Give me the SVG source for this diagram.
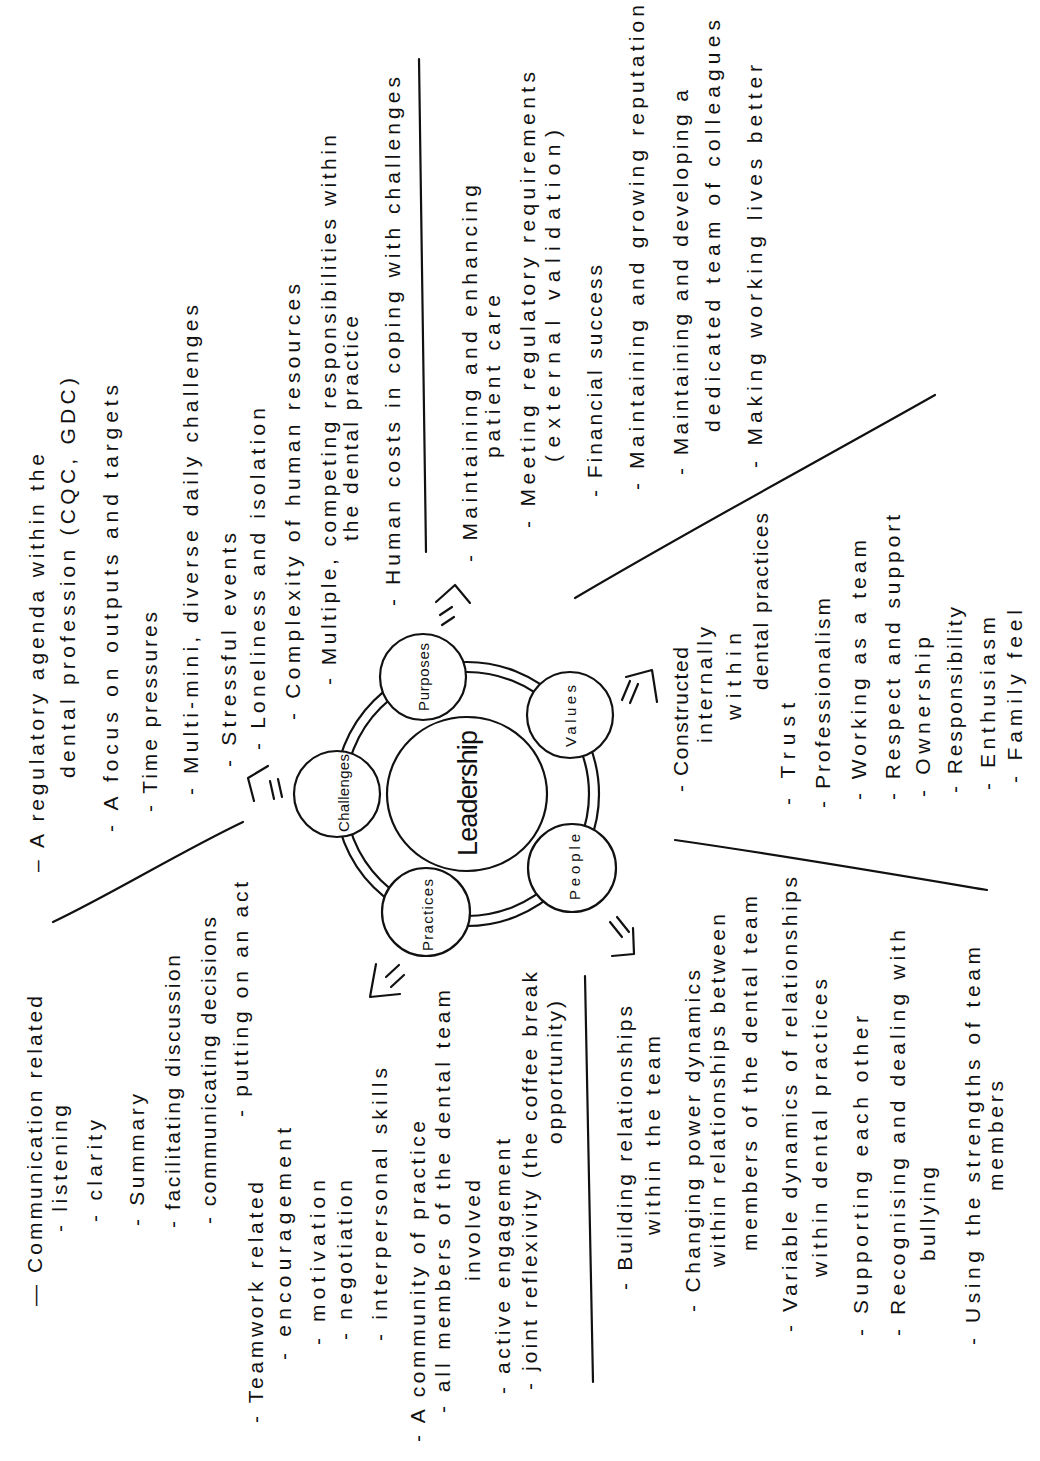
<svg xmlns="http://www.w3.org/2000/svg" width="1040" height="1461" viewBox="0 0 1040 1461">
  <style>
    .t { font-family: "Liberation Sans", Arial, sans-serif; font-size: 21px; fill: #111; }
    .lbl { font-family: "Liberation Sans", Arial, sans-serif; font-size: 15px; fill: #111; text-anchor: middle; }
    .big { font-family: "Liberation Sans", Arial, sans-serif; font-size: 27px; fill: #111; text-anchor: middle; }
    .ink { fill: none; stroke: #111; stroke-width: 2.2; stroke-linecap: round; stroke-linejoin: round; }
    .bub { fill: #fff; stroke: #111; stroke-width: 2.2; }
  </style>
  <rect width="1040" height="1461" fill="#fff"/>

  <!-- connectors: the double ring, arrows and dividing strokes -->
  <g id="connectors">
    <circle class="ink" cx="467" cy="794" r="132"/>
    <circle class="ink" cx="467" cy="794" r="122"/>
    <!-- arrows leaving each theme -->
    <path class="ink" d="M268,766 L248,778 L254,801 M270,781 L274,799 M278,779 L282,797"/>
    <path class="ink" d="M436,602 L455,585 L470,603 M440,615 L452,607 M442,625 L454,617"/>
    <path class="ink" d="M626,677 L652,670 L657,702 M622,700 L630,681 M630,703 L638,684"/>
    <path class="ink" d="M633,928 L634,954 L612,956 M610,922 L622,937 M617,917 L629,932"/>
    <path class="ink" d="M376,964 L370,997 L400,994 M386,977 L399,965 M391,987 L404,975"/>
    <!-- dividing strokes between the sections -->
    <path class="ink" d="M53,922 C110,895 180,852 243,822"/>
    <path class="ink" d="M419,59 C421,220 424,390 426,552"/>
    <path class="ink" d="M575,598 C690,530 820,460 935,395"/>
    <path class="ink" d="M675,840 C780,855 880,872 987,890"/>
    <path class="ink" d="M585,976 C587,1110 590,1245 593,1382"/>
  </g>

  <!-- central node -->
  <g id="node-leadership">
    <ellipse class="bub" cx="467" cy="794" rx="80" ry="77"/>
    <text class="big" transform="translate(477 793) rotate(-90)" textLength="126">Leadership</text>
  </g>

  <g id="node-challenges">
    <circle class="bub" cx="337" cy="794" r="43"/>
    <text class="lbl" transform="translate(349 793) rotate(-90)" textLength="78">Challenges</text>
  </g>
  <g id="node-purposes">
    <circle class="bub" cx="423" cy="677" r="43"/>
    <text class="lbl" transform="translate(429 677) rotate(-90)" textLength="68">Purposes</text>
  </g>
  <g id="node-values">
    <circle class="bub" cx="570" cy="715" r="43"/>
    <text class="lbl" transform="translate(576 716) rotate(-90)" textLength="62">Values</text>
  </g>
  <g id="node-people">
    <circle class="bub" cx="572" cy="868" r="44"/>
    <text class="lbl" transform="translate(580 867) rotate(-90)" textLength="66">People</text>
  </g>
  <g id="node-practices">
    <circle class="bub" cx="426" cy="912" r="44"/>
    <text class="lbl" transform="translate(433 915) rotate(-90)" textLength="72">Practices</text>
  </g>

  <!-- notes for Challenges -->
  <g id="notes-challenges">
    <text class="t" transform="translate(44 872) rotate(-90)" textLength="418">– A regulatory agenda within the</text>
    <text class="t" transform="translate(75 778) rotate(-90)" textLength="400">dental profession  (CQC, GDC)</text>
    <text class="t" transform="translate(118 832) rotate(-90)" textLength="447">- A focus on outputs and targets</text>
    <text class="t" transform="translate(157 812) rotate(-90)" textLength="200">- Time pressures</text>
    <text class="t" transform="translate(198 795) rotate(-90)" textLength="490">- Multi-mini, diverse daily challenges</text>
    <text class="t" transform="translate(236 767) rotate(-90)" textLength="234">- Stressful events</text>
    <text class="t" transform="translate(265 750) rotate(-90)" textLength="342">- Loneliness and isolation</text>
    <text class="t" transform="translate(300 720) rotate(-90)" textLength="436">- Complexity of human resources</text>
    <text class="t" transform="translate(336 685) rotate(-90)" textLength="550">- Multiple, competing responsibilities within</text>
    <text class="t" transform="translate(358 541) rotate(-90)" textLength="225">the dental practice</text>
    <text class="t" transform="translate(400 606) rotate(-90)" textLength="529">- Human costs in coping with challenges</text>
  </g>

  <!-- notes for Purposes -->
  <g id="notes-purposes">
    <text class="t" transform="translate(477 562) rotate(-90)" textLength="377">- Maintaining and enhancing</text>
    <text class="t" transform="translate(500 458) rotate(-90)" textLength="163">patient care</text>
    <text class="t" transform="translate(535 528) rotate(-90)" textLength="456">- Meeting regulatory requirements</text>
    <text class="t" transform="translate(560 462) rotate(-90)" textLength="332">(external validation)</text>
    <text class="t" transform="translate(602 497) rotate(-90)" textLength="232">- Financial success</text>
    <text class="t" transform="translate(644 490) rotate(-90)" textLength="485">- Maintaining and growing reputation</text>
    <text class="t" transform="translate(688 475) rotate(-90)" textLength="385">- Maintaining and developing a</text>
    <text class="t" transform="translate(720 432) rotate(-90)" textLength="412">dedicated team of colleagues</text>
    <text class="t" transform="translate(762 468) rotate(-90)" textLength="403">- Making working lives better</text>
  </g>

  <!-- notes for Values -->
  <g id="notes-values">
    <text class="t" transform="translate(688 792) rotate(-90)" textLength="145">- Constructed</text>
    <text class="t" transform="translate(712 743) rotate(-90)" textLength="116">internally</text>
    <text class="t" transform="translate(741 720) rotate(-90)" textLength="87">within</text>
    <text class="t" transform="translate(768 690) rotate(-90)" textLength="177">dental practices</text>
    <text class="t" transform="translate(795 805) rotate(-90)" textLength="102">- Trust</text>
    <text class="t" transform="translate(830 808) rotate(-90)" textLength="210">- Professionalism</text>
    <text class="t" transform="translate(866 800) rotate(-90)" textLength="260">- Working as a team</text>
    <text class="t" transform="translate(900 800) rotate(-90)" textLength="285">- Respect and support</text>
    <text class="t" transform="translate(930 797) rotate(-90)" textLength="160">- Ownership</text>
    <text class="t" transform="translate(962 793) rotate(-90)" textLength="186">- Responsibility</text>
    <text class="t" transform="translate(995 790) rotate(-90)" textLength="173">- Enthusiasm</text>
    <text class="t" transform="translate(1022 783) rotate(-90)" textLength="173">- Family feel</text>
  </g>

  <!-- notes for People -->
  <g id="notes-people">
    <text class="t" transform="translate(632 1290) rotate(-90)" textLength="284">-  Building relationships</text>
    <text class="t" transform="translate(660 1235) rotate(-90)" textLength="199">within the team</text>
    <text class="t" transform="translate(700 1312) rotate(-90)" textLength="342">- Changing power dynamics</text>
    <text class="t" transform="translate(725 1267) rotate(-90)" textLength="353">within relationships between</text>
    <text class="t" transform="translate(757 1251) rotate(-90)" textLength="355">members of the dental team</text>
    <text class="t" transform="translate(797 1332) rotate(-90)" textLength="455">- Variable dynamics of relationships</text>
    <text class="t" transform="translate(827 1277) rotate(-90)" textLength="298">within dental practices</text>
    <text class="t" transform="translate(868 1336) rotate(-90)" textLength="320">-  Supporting each other</text>
    <text class="t" transform="translate(905 1336) rotate(-90)" textLength="406">-  Recognising and dealing with</text>
    <text class="t" transform="translate(935 1261) rotate(-90)" textLength="94">bullying</text>
    <text class="t" transform="translate(980 1345) rotate(-90)" textLength="398">-  Using the strengths of team</text>
    <text class="t" transform="translate(1003 1191) rotate(-90)" textLength="110">members</text>
  </g>

  <!-- notes for Practices -->
  <g id="notes-practices">
    <text class="t" transform="translate(42 1306) rotate(-90)" textLength="310">— Communication related</text>
    <text class="t" transform="translate(67 1232) rotate(-90)" textLength="127">- listening</text>
    <text class="t" transform="translate(102 1222) rotate(-90)" textLength="102">- clarity</text>
    <text class="t" transform="translate(144 1226) rotate(-90)" textLength="132">- Summary</text>
    <text class="t" transform="translate(180 1228) rotate(-90)" textLength="273">- facilitating discussion</text>
    <text class="t" transform="translate(216 1224) rotate(-90)" textLength="307">- communicating decisions</text>
    <text class="t" transform="translate(248 1117) rotate(-90)" textLength="235">- putting on an act</text>
    <text class="t" transform="translate(263 1423) rotate(-90)" textLength="241">- Teamwork related</text>
    <text class="t" transform="translate(291 1360) rotate(-90)" textLength="232">- encouragement</text>
    <text class="t" transform="translate(325 1345) rotate(-90)" textLength="165">- motivation</text>
    <text class="t" transform="translate(352 1340) rotate(-90)" textLength="160">- negotiation</text>
    <text class="t" transform="translate(387 1341) rotate(-90)" textLength="273">- interpersonal skills</text>
    <text class="t" transform="translate(425 1442) rotate(-90)" textLength="321">- A community of practice</text>
    <text class="t" transform="translate(450 1413) rotate(-90)" textLength="423">- all members of the dental team</text>
    <text class="t" transform="translate(480 1281) rotate(-90)" textLength="101">involved</text>
    <text class="t" transform="translate(510 1394) rotate(-90)" textLength="255">- active engagement</text>
    <text class="t" transform="translate(537 1390) rotate(-90)" textLength="418">- joint reflexivity  (the coffee break</text>
    <text class="t" transform="translate(562 1144) rotate(-90)" textLength="143">opportunity)</text>
  </g>
</svg>
